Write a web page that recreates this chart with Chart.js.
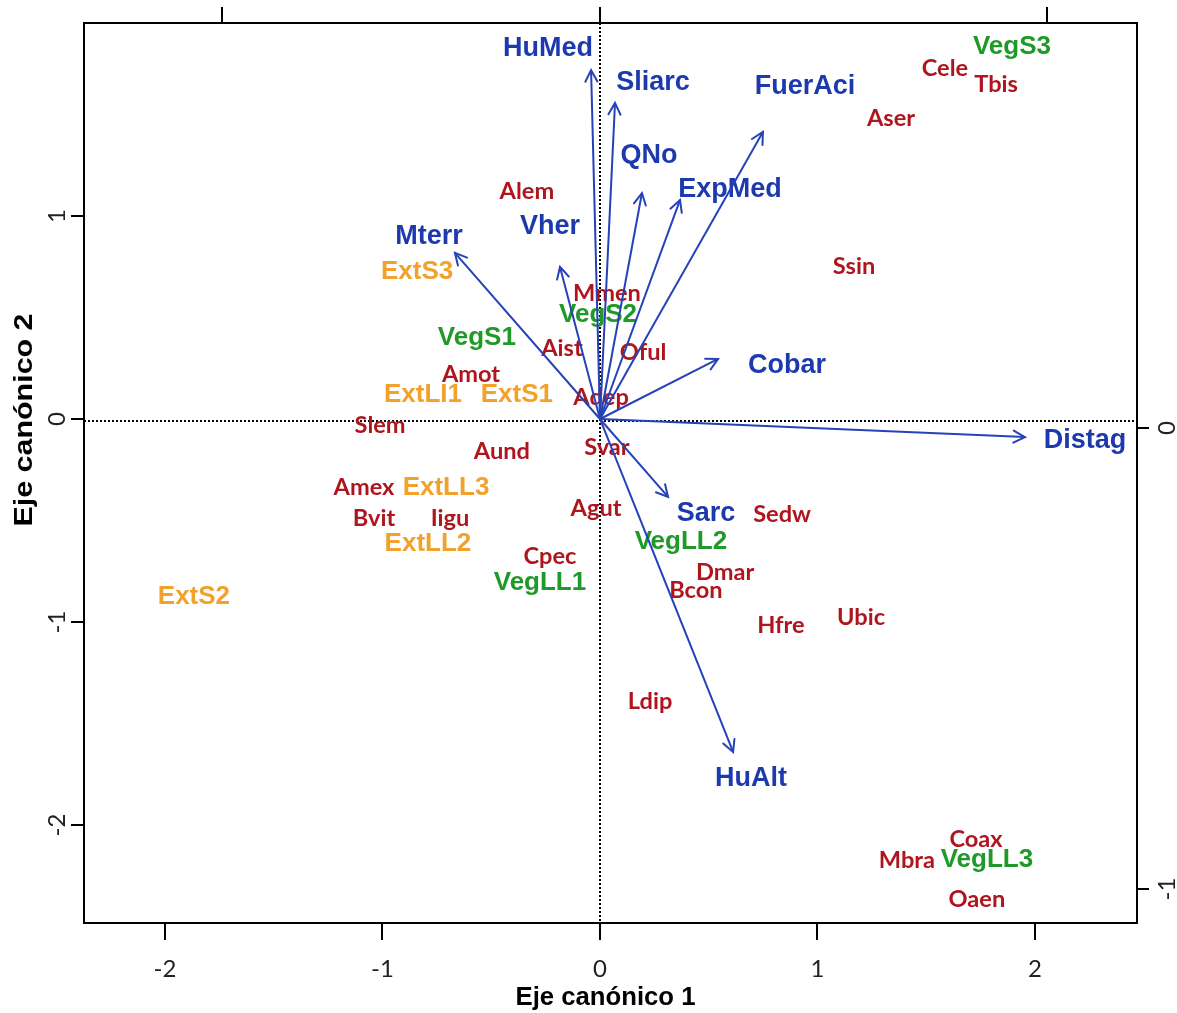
<!DOCTYPE html>
<html>
<head>
<meta charset="utf-8">
<script src="https://cdn.jsdelivr.net/npm/chart.js@4.4.1/dist/chart.umd.min.js"></script>
<style>
  html, body { margin: 0; padding: 0; background: #ffffff; }
  #wrap { width: 1177px; height: 1013px; position: relative; }
</style>
</head>
<body>
<div id="wrap"><canvas id="cca"></canvas></div>
<script>
// Environmental variables: arrow tips and label positions (canonical axes 1 and 2)
const envNames  = ['HuMed', 'Sliarc', 'QNo', 'ExpMed', 'FuerAci', 'Mterr', 'Vher', 'Cobar', 'Distag', 'Sarc', 'HuAlt'];
const envArrowX = [-0.041, 0.069, 0.193, 0.368, 0.749, -0.667, -0.184, 0.543, 1.954, 0.313, 0.612];
const envArrowY = [1.719, 1.557, 1.113, 1.079, 1.414, 0.818, 0.749, 0.296, -0.089, -0.384, -1.640];
const envLabelX = [-0.239, 0.244, 0.225, 0.598, 0.943, -0.786, -0.230, 0.860, 2.230, 0.487, 0.694];
const envLabelY = [1.823, 1.655, 1.296, 1.128, 1.640, 0.901, 0.946, 0.261, -0.108, -0.468, -1.773];

// Species scores
const speciesNames = ['Alem', 'Mmen', 'Aist', 'Oful', 'Amot', 'Adep', 'Slem', 'Aund', 'Svar', 'Amex',
                      'Bvit', 'Iigu', 'Agut', 'Sedw', 'Cpec', 'Dmar', 'Bcon', 'Hfre', 'Ubic', 'Ldip',
                      'Ssin', 'Aser', 'Cele', 'Tbis', 'Coax', 'Mbra', 'Oaen'];
const speciesX = [-0.336, 0.032, -0.175, 0.198, -0.593, 0.005, -1.011, -0.451, 0.032, -1.085,
                  -1.039, -0.690, -0.018, 0.837, -0.230, 0.575, 0.441, 0.832, 1.200, 0.230,
                  1.168, 1.338, 1.586, 1.821, 1.729, 1.411, 1.733];
const speciesY = [1.123, 0.621, 0.350, 0.330, 0.222, 0.108, -0.030, -0.158, -0.138, -0.335,
                  -0.488, -0.488, -0.438, -0.468, -0.675, -0.754, -0.842, -1.015, -0.975, -1.389,
                  0.754, 1.483, 1.729, 1.650, -2.069, -2.172, -2.365];

// Sites on the edge of the water body ("Ext")
const extNames = ['ExtS3', 'ExtLI1', 'ExtS1', 'ExtLL3', 'ExtLL2', 'ExtS2'];
const extX = [-0.841, -0.814, -0.382, -0.708, -0.791, -1.867];
const extY = [0.724, 0.118, 0.118, -0.340, -0.616, -0.877];

// Sites in the vegetation ("Veg")
const vegNames = ['VegS3', 'VegS2', 'VegS1', 'VegLL2', 'VegLL1', 'VegLL3'];
const vegX = [1.894, -0.009, -0.566, 0.372, -0.276, 1.779];
const vegY = [1.833, 0.512, 0.399, -0.606, -0.808, -2.172];

// Axis ticks
const xTicks = [-2, -1, 0, 1, 2];
const yTicks = [-2, -1, 0, 1];
const topTicks = [-0.82, 0, 0.97];
const rightTicks = [-1, 0];

const xTitle = 'Eje canónico 1';
const yTitle = 'Eje canónico 2';

const COL_ENV = '#1c3aae';
const COL_ARROW = '#2542b8';
const COL_SPP = '#ae151d';
const COL_EXT = '#f2a22a';
const COL_VEG = '#1f9a28';

const toPts = (xs, ys) => xs.map((x, i) => ({ x: x, y: ys[i] }));

const datasets = [];
datasets.push({ type: 'scatter', data: toPts(speciesX, speciesY), pointRadius: 0,
  labelNames: speciesNames, labelColor: COL_SPP, labelFont: 'bold 23.6px Lato' });
datasets.push({ type: 'scatter', data: toPts(extX, extY), pointRadius: 0,
  labelNames: extNames, labelColor: COL_EXT, labelFont: 'bold 26px "Liberation Sans", Arial' });
datasets.push({ type: 'scatter', data: toPts(vegX, vegY), pointRadius: 0,
  labelNames: vegNames, labelColor: COL_VEG, labelFont: 'bold 26px "Liberation Sans", Arial' });
datasets.push({ type: 'scatter', data: toPts(envLabelX, envLabelY), pointRadius: 0,
  labelNames: envNames, labelColor: COL_ENV, labelFont: 'bold 27px "Liberation Sans", Arial' });
envNames.forEach((n, i) => {
  datasets.push({ type: 'scatter', showLine: true, isArrow: true,
    data: [{ x: 0, y: 0 }, { x: envArrowX[i], y: envArrowY[i] }],
    borderColor: COL_ARROW, borderWidth: 2, pointRadius: 0, fill: false });
});

// Zero reference lines and text labels, drawn under the arrows
const backdrop = {
  id: 'backdrop',
  beforeDatasetsDraw(chart) {
    const { ctx, chartArea: a, scales: s } = chart;
    ctx.save();
    ctx.strokeStyle = '#000';
    ctx.lineWidth = 2;
    ctx.setLineDash([2, 2]);
    const x0 = s.x.getPixelForValue(0), y0 = s.y.getPixelForValue(0) + 2;
    ctx.beginPath();
    ctx.moveTo(x0, a.top); ctx.lineTo(x0, a.bottom);
    ctx.moveTo(a.left, y0); ctx.lineTo(a.right, y0);
    ctx.stroke();
    ctx.restore();

    chart.data.datasets.forEach((ds, di) => {
      if (!ds.labelNames) return;
      const meta = chart.getDatasetMeta(di);
      ctx.save();
      ctx.font = ds.labelFont;
      ctx.fillStyle = ds.labelColor;
      ctx.textAlign = 'center';
      ctx.textBaseline = 'middle';
      meta.data.forEach((el, i) => ctx.fillText(ds.labelNames[i], el.x, el.y));
      ctx.restore();
    });
  }
};

// Open arrowheads at the tip of each environmental vector
const arrowHeads = {
  id: 'arrowHeads',
  afterDatasetsDraw(chart) {
    const ctx = chart.ctx;
    chart.data.datasets.forEach((ds, di) => {
      if (!ds.isArrow) return;
      const meta = chart.getDatasetMeta(di);
      const p0 = meta.data[0], p1 = meta.data[1];
      const ang = Math.atan2(p1.y - p0.y, p1.x - p0.x);
      const len = 13, spread = Math.PI / 6.5;
      ctx.save();
      ctx.strokeStyle = ds.borderColor;
      ctx.lineWidth = 2;
      ctx.lineCap = 'round';
      ctx.beginPath();
      ctx.moveTo(p1.x - len * Math.cos(ang - spread), p1.y - len * Math.sin(ang - spread));
      ctx.lineTo(p1.x, p1.y);
      ctx.lineTo(p1.x - len * Math.cos(ang + spread), p1.y - len * Math.sin(ang + spread));
      ctx.stroke();
      ctx.restore();
    });
  }
};

// Tick labels and axis titles
const axisText = {
  id: 'axisText',
  afterDraw(chart) {
    const { ctx, chartArea: a, scales: s } = chart;
    ctx.save();
    ctx.fillStyle = '#222';
    ctx.font = '24px Lato';
    ctx.textAlign = 'center';
    ctx.textBaseline = 'middle';
    s.x.ticks.forEach(t => ctx.fillText(String(t.value), s.x.getPixelForValue(t.value), a.bottom + 46));
    s.y.ticks.forEach(t => {
      ctx.save();
      ctx.translate(a.left - 27, s.y.getPixelForValue(t.value));
      ctx.rotate(-Math.PI / 2);
      ctx.fillText(String(t.value), 0, 0);
      ctx.restore();
    });
    s.y2.ticks.forEach(t => {
      ctx.save();
      ctx.translate(a.right + 30, s.y2.getPixelForValue(t.value));
      ctx.rotate(-Math.PI / 2);
      ctx.fillText(String(t.value), 0, 0);
      ctx.restore();
    });

    ctx.fillStyle = '#000';
    ctx.font = 'bold 25.7px "Liberation Sans", Arial';
    ctx.fillText(xTitle, (a.left + a.right) / 2 - 5, a.bottom + 75);
    ctx.save();
    ctx.translate(25, (a.top + a.bottom) / 2 - 53);
    ctx.rotate(-Math.PI / 2);
    ctx.scale(1.17, 1);
    ctx.font = 'bold 26px "Liberation Sans", Arial';
    ctx.fillText(yTitle, 0, 0);
    ctx.restore();
    ctx.restore();
  }
};

const axisStyle = (tickLen) => ({
  ticks: { display: false },
  grid: { display: true, drawOnChartArea: false, drawTicks: true, tickLength: tickLen, color: '#000', lineWidth: 2 },
  border: { display: true, color: '#000', width: 2 }
});

new Chart(document.getElementById('cca'), {
  type: 'scatter',
  data: { datasets: datasets },
  options: {
    responsive: true,
    maintainAspectRatio: false,
    animation: false,
    events: [],
    layout: { padding: 0 },
    plugins: { legend: { display: false }, tooltip: { enabled: false } },
    scales: {
      x: Object.assign(axisStyle(17), {
        type: 'linear', position: 'bottom', min: -2.3724, max: 2.469,
        afterBuildTicks: sc => { sc.ticks = xTicks.map(v => ({ value: v })); },
        afterFit: sc => { sc.height = 90; }
      }),
      y: Object.assign(axisStyle(13), {
        type: 'linear', position: 'left', min: -2.4828, max: 1.9507,
        afterBuildTicks: sc => { sc.ticks = yTicks.map(v => ({ value: v })); },
        afterFit: sc => { sc.width = 84; }
      }),
      x2: Object.assign(axisStyle(16), {
        type: 'linear', position: 'top', min: -1.1193, max: 1.1649,
        afterBuildTicks: sc => { sc.ticks = topTicks.map(v => ({ value: v })); },
        afterFit: sc => { sc.height = 23; }
      }),
      y2: Object.assign(axisStyle(12), {
        type: 'linear', position: 'right', min: -1.0738, max: 0.8785,
        afterBuildTicks: sc => { sc.ticks = rightTicks.map(v => ({ value: v })); },
        afterFit: sc => { sc.width = 40; }
      })
    }
  },
  plugins: [backdrop, arrowHeads, axisText]
});
</script>
</body>
</html>
